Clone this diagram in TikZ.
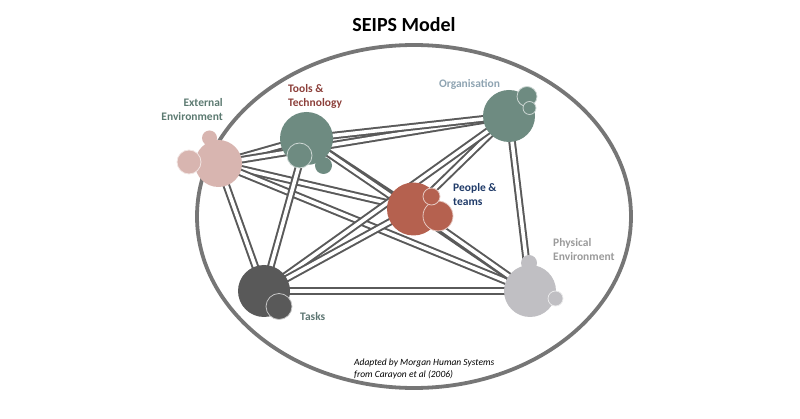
\documentclass[tikz,border=0pt]{standalone}
\usepackage{fontspec}
\setmainfont{Carlito}
\usepackage{xcolor}
\usetikzlibrary{positioning,backgrounds}

\definecolor{extpink}{HTML}{D8B5B0}
\definecolor{sage}{HTML}{6E8B81}
\definecolor{rust}{HTML}{B5614F}
\definecolor{taskgray}{HTML}{595959}
\definecolor{physgray}{HTML}{C0BFC3}
\definecolor{linegray}{HTML}{5A5A5A}
\definecolor{ringgray}{HTML}{767676}
\definecolor{extlab}{HTML}{5C7A71}
\definecolor{toollab}{HTML}{8C3F3A}
\definecolor{orglab}{HTML}{8FA4B2}
\definecolor{peoplelab}{HTML}{1F3A68}
\definecolor{tasklab}{HTML}{5E7673}
\definecolor{physlab}{HTML}{9A9A9A}

\begin{document}
\begin{tikzpicture}[x=1pt, y=-1pt, link/.style = {draw=linegray, line width=2pt, double=white, double distance=3.6pt}]
				\tikzset{blob/.style={circle,inner sep=0pt,fill=#1}}
				\tikzset{bud/.style={circle,inner sep=0pt,fill=#1,draw=#1!35!white,line width=0.8pt}}
				\tikzset{lab/.style={font=\fontsize{11.5}{14}\selectfont\bfseries,inner sep=0pt}}

				\useasboundingbox (0,0) rectangle (800,419);

				\node[font=\fontsize{20}{24}\selectfont\bfseries, inner sep=0pt, anchor=base] (title) at (404,32) {SEIPS Model};

				% external environment
				\node[blob=extpink, minimum size=15pt] (exttop) at (209.5,138) {};
				\node[blob=extpink, minimum size=47pt] (ext) at (218.5,163.5) {};
				\node[bud=extpink, minimum size=24pt] (extleft) at (189,162) {};

				% tools and technology
				\node[blob=sage, minimum size=17pt] (toolsside) at (323.5,165.5) {};
				\node[blob=sage, minimum size=53pt] (tools) at (306.5,138.5) {};
				\node[bud=sage, minimum size=25pt] (toolsin) at (299.5,155.5) {};

				% organisation
				\node[blob=sage, minimum size=52pt] (org) at (509,116) {};
				\node[bud=sage, minimum size=20pt] (orgtop) at (527,96.5) {};
				\node[bud=sage, minimum size=13pt] (orgside) at (529.5,108) {};

				% people and teams
				\node[blob=rust, minimum size=53pt] (people) at (413.5,209) {};
				\node[bud=rust, minimum size=30pt] (peoplelow) at (438,216) {};
				\node[bud=rust, minimum size=17pt] (peopletop) at (431.5,196.5) {};

				% tasks
				\node[blob=taskgray, minimum size=52pt] (tasks) at (264,291) {};
				\node[bud=taskgray, minimum size=26pt] (tasksin) at (279,306.5) {};

				% physical environment
				\node[blob=physgray, minimum size=16pt] (phystop) at (529,263) {};
				\node[blob=physgray, minimum size=52pt] (phys) at (530,291) {};
				\node[bud=physgray, minimum size=15pt] (physside) at (555.5,298.5) {};

				\begin{scope}[on background layer]
				\draw[draw=ringgray, line width=3.8pt] (414,216.5) ellipse [x radius=217, y radius=171.5];

				\draw [link] (ext.center) -- (tools.center);
				\draw [link] (ext.center) -- (org.center);
				\draw [link] (ext.center) -- (people.center);
				\draw [link] (ext.center) -- (phys.center);
				\draw [link] (ext.center) -- (tasks.center);
				\draw [link] (tools.center) -- (org.center);
				\draw [link] (tools.center) -- (people.center);
				\draw [link] (tools.center) -- (phys.center);
				\draw [link] (tools.center) -- (tasks.center);
				\draw [link] (org.center) -- (people.center);
				\draw [link] (org.center) -- (phys.center);
				\draw [link] (org.center) -- (tasks.center);
				\draw [link] (people.center) -- (phys.center);
				\draw [link] (people.center) -- (tasks.center);
				\draw [link] (tasks.center) -- (phys.center);
				\end{scope}

				\node[lab, text=extlab, align=right, anchor=base east] (extlabel) at (223,121) {External\\Environment};
				\node[lab, text=toollab, align=left, anchor=base west] (toolslabel) at (288,107) {Tools \&\\Technology};
				\node[lab, text=orglab, anchor=base] (orglabel) at (469.5,88) {Organisation};
				\node[lab, text=peoplelab, align=left, anchor=base west] (peoplelabel) at (453,206) {People \&\\teams};
				\node[lab, text=physlab, align=left, anchor=base west] (physlabel) at (553,261) {Physical\\Environment};
				\node[lab, text=tasklab, anchor=base west] (taskslabel) at (300,321) {Tasks};

				\node[font=\fontsize{9.5}{12}\selectfont\itshape, align=left, anchor=base west, inner sep=0pt] (credit) at (354,377) {Adapted by Morgan Human Systems\\from Carayon et al (2006)};

			\end{tikzpicture}
\end{document}
